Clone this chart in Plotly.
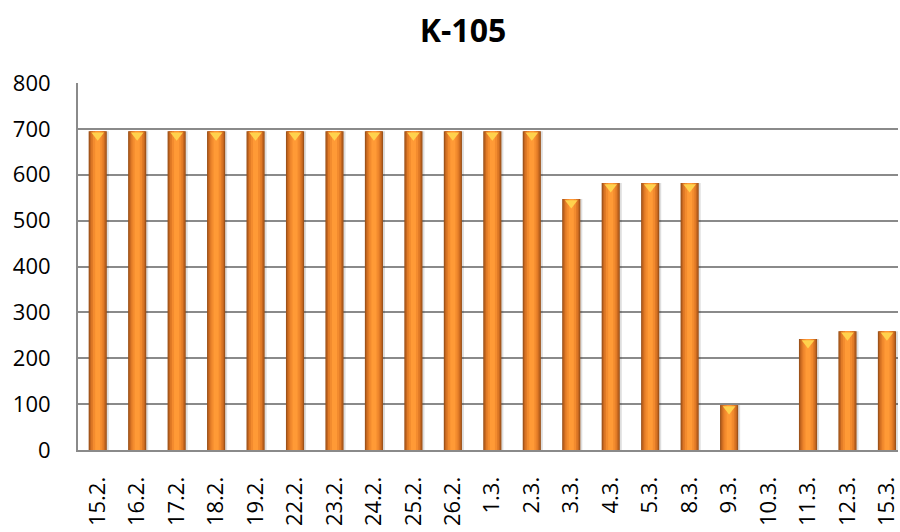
import plotly.graph_objects as go

# Daily values for unit K-105
dates = ["15.2.", "16.2.", "17.2.", "18.2.", "19.2.", "22.2.", "23.2.", "24.2.",
         "25.2.", "26.2.", "1.3.", "2.3.", "3.3.", "4.3.", "5.3.", "8.3.",
         "9.3.", "10.3.", "11.3.", "12.3.", "15.3."]
values = [695, 695, 695, 695, 695, 695, 695, 695, 695, 695, 695, 695,
          547, 582, 582, 582, 98, 0, 242, 259, 259]
y_ticks = [0, 100, 200, 300, 400, 500, 600, 700, 800]

FONT = "Open Sans"
Y_MAX = 800
PLOT_H = 367  # plot area height in px, used to convert a pixel offset to data units

fig = go.Figure()

# soft drop shadow behind each bar
fig.add_trace(go.Bar(
    x=dates, y=values, width=0.5, offset=-0.22,
    marker=dict(color="rgba(0,0,0,0.13)", line=dict(width=0)),
    hoverinfo="skip", showlegend=False,
))

# layered bars: dark rim to bright centre for a bevelled look
layers = [
    (0.46, "#9E531A"),
    (0.40, "#C4661F"),
    (0.33, "#E07A26"),
    (0.24, "#F38B2E"),
    (0.13, "#FF9A36"),
]
for w, c in layers:
    fig.add_trace(go.Bar(
        x=dates, y=values, width=w,
        marker=dict(color=c, line=dict(width=0)),
        hoverinfo="skip", showlegend=False,
    ))

# highlight wedge on top of each bar
px_to_data = Y_MAX / PLOT_H
cap_x = [d for d, v in zip(dates, values) if v > 0]
cap_y = [v - 4 * px_to_data for v in values if v > 0]
fig.add_trace(go.Scatter(
    x=cap_x, y=cap_y, mode="markers",
    marker=dict(symbol="triangle-down", size=11, color="#FFD24D",
                line=dict(width=0)),
    hoverinfo="skip", showlegend=False, cliponaxis=False,
))

fig.update_layout(
    width=900, height=532,
    margin=dict(l=78, r=0, t=83, b=82),
    paper_bgcolor="white", plot_bgcolor="white",
    barmode="overlay",
    title=dict(text="<b>K-105</b>", x=463 / 900, xanchor="center",
               y=1 - 31 / 532, yanchor="middle",
               font=dict(family=FONT, size=32, color="black")),
    font=dict(family=FONT, color="black"),
    showlegend=False,
)

fig.update_xaxes(
    type="category", range=[-0.5, 20.28],
    tickangle=-90, tickfont=dict(size=22, family=FONT),
    showgrid=False, showline=True, linecolor="#8A8A8A", linewidth=2,
    ticks="", ticklabelstandoff=16, zeroline=False,
)
fig.update_yaxes(
    range=[0, Y_MAX], tickvals=y_ticks,
    tickfont=dict(size=22, family=FONT),
    showgrid=True, gridcolor="#8A8A8A", gridwidth=1.5,
    showline=True, linecolor="#8A8A8A", linewidth=2,
    ticks="", ticklabelstandoff=21, zeroline=False,
)

fig.write_html("out.html")
